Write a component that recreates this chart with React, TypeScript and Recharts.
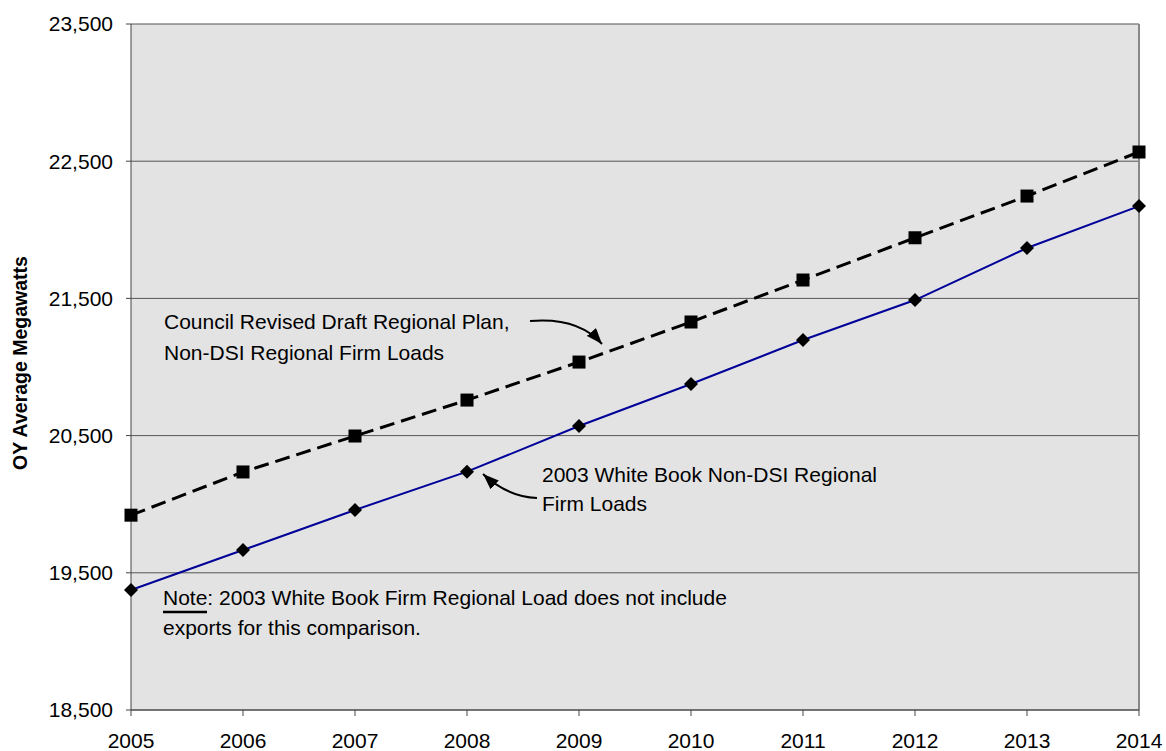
import { CartesianGrid, Line, LineChart, ReferenceLine, XAxis, YAxis } from 'recharts'

const years = [2005, 2006, 2007, 2008, 2009, 2010, 2011, 2012, 2013, 2014]
const councilLoads = [19920, 20235, 20497, 20759, 21036, 21328, 21634, 21942, 22246, 22567]
const whiteBookLoads = [19375, 19666, 19958, 20237, 20570, 20876, 21197, 21488, 21867, 22173]
const yTicks = [18500, 19500, 20500, 21500, 22500, 23500]

const FONT = '"Liberation Sans", Arial, sans-serif'

const data = years.map((year, i) => ({ year, council: councilLoads[i], whiteBook: whiteBookLoads[i] }))

function SquareDot(props: any) {
  const { cx, cy } = props
  if (cx == null || cy == null) return null
  return <rect x={cx - 6.5} y={cy - 6.5} width={13} height={13} fill="#000" />
}

function DiamondDot(props: any) {
  const { cx, cy } = props
  if (cx == null || cy == null) return null
  return <path d={`M${cx},${cy - 7} L${cx + 7},${cy} L${cx},${cy + 7} L${cx - 7},${cy} Z`} fill="#000" />
}

function Annotations() {
  return (
    <svg width={1166} height={751} style={{ position: 'absolute', left: 0, top: 0, pointerEvents: 'none' }}>
      <defs>
        <marker id="head" viewBox="0 0 16 12" refX={16} refY={6} markerWidth={16} markerHeight={12} markerUnits="userSpaceOnUse" orient="auto">
          <path d="M0,0 L16,6 L0,12 Z" fill="#000" />
        </marker>
      </defs>
      <g fontFamily={FONT} fontSize={21} fill="#000">
        <text x={164} y={329}>Council Revised Draft Regional Plan,</text>
        <text x={164} y={360}>Non-DSI Regional Firm Loads</text>
        <text x={542} y={482}>2003 White Book Non-DSI Regional</text>
        <text x={542} y={511}>Firm Loads</text>
        <text x={163} y={605}>Note: 2003 White Book Firm Regional Load does not include</text>
        <text x={163} y={635}>exports for this comparison.</text>
      </g>
      <line x1={163} y1={612} x2={207} y2={612} stroke="#000" strokeWidth={2.5} />
      <path d="M 530 321 C 565 318, 588 328, 602 344" fill="none" stroke="#000" strokeWidth={2} markerEnd="url(#head)" />
      <path d="M 537 498 C 515 497, 498 488, 483 474" fill="none" stroke="#000" strokeWidth={2} markerEnd="url(#head)" />
      <text
        x={20}
        y={363}
        transform="rotate(-90 20 363)"
        textAnchor="middle"
        dominantBaseline="central"
        fontFamily={FONT}
        fontSize={19.5}
        fontWeight="bold"
      >
        OY Average Megawatts
      </text>
    </svg>
  )
}

export default function App() {
  return (
    <div style={{ position: 'absolute', left: 0, top: 0, width: 1166, height: 751, background: '#fff' }}>
      <LineChart width={1166} height={751} data={data} margin={{ top: 24, right: 27, left: 0, bottom: 0 }}>
        <CartesianGrid vertical={false} stroke="#555" fill="#e3e3e3" fillOpacity={1} />
        <XAxis
          dataKey="year"
          type="number"
          domain={[2005, 2014]}
          ticks={years}
          height={41}
          tickSize={6}
          tickMargin={17}
          stroke="#444"
          tick={{ fill: '#000', fontSize: 21, fontFamily: FONT }}
          interval={0}
        />
        <YAxis
          type="number"
          domain={[18500, 23500]}
          ticks={yTicks}
          width={131}
          tickSize={5}
          tickMargin={13}
          stroke="#444"
          tick={{ fill: '#000', fontSize: 21, fontFamily: FONT }}
          tickFormatter={(v: number) => v.toLocaleString('en-US')}
          interval={0}
        />
        <ReferenceLine x={2014} stroke="#888" strokeWidth={2} />
        <Line
          dataKey="council"
          stroke="#000"
          strokeWidth={3}
          strokeDasharray="15 7"
          dot={<SquareDot />}
          activeDot={false}
          isAnimationActive={false}
        />
        <Line
          dataKey="whiteBook"
          stroke="#000099"
          strokeWidth={2}
          dot={<DiamondDot />}
          activeDot={false}
          isAnimationActive={false}
        />
      </LineChart>
      <Annotations />
    </div>
  )
}
